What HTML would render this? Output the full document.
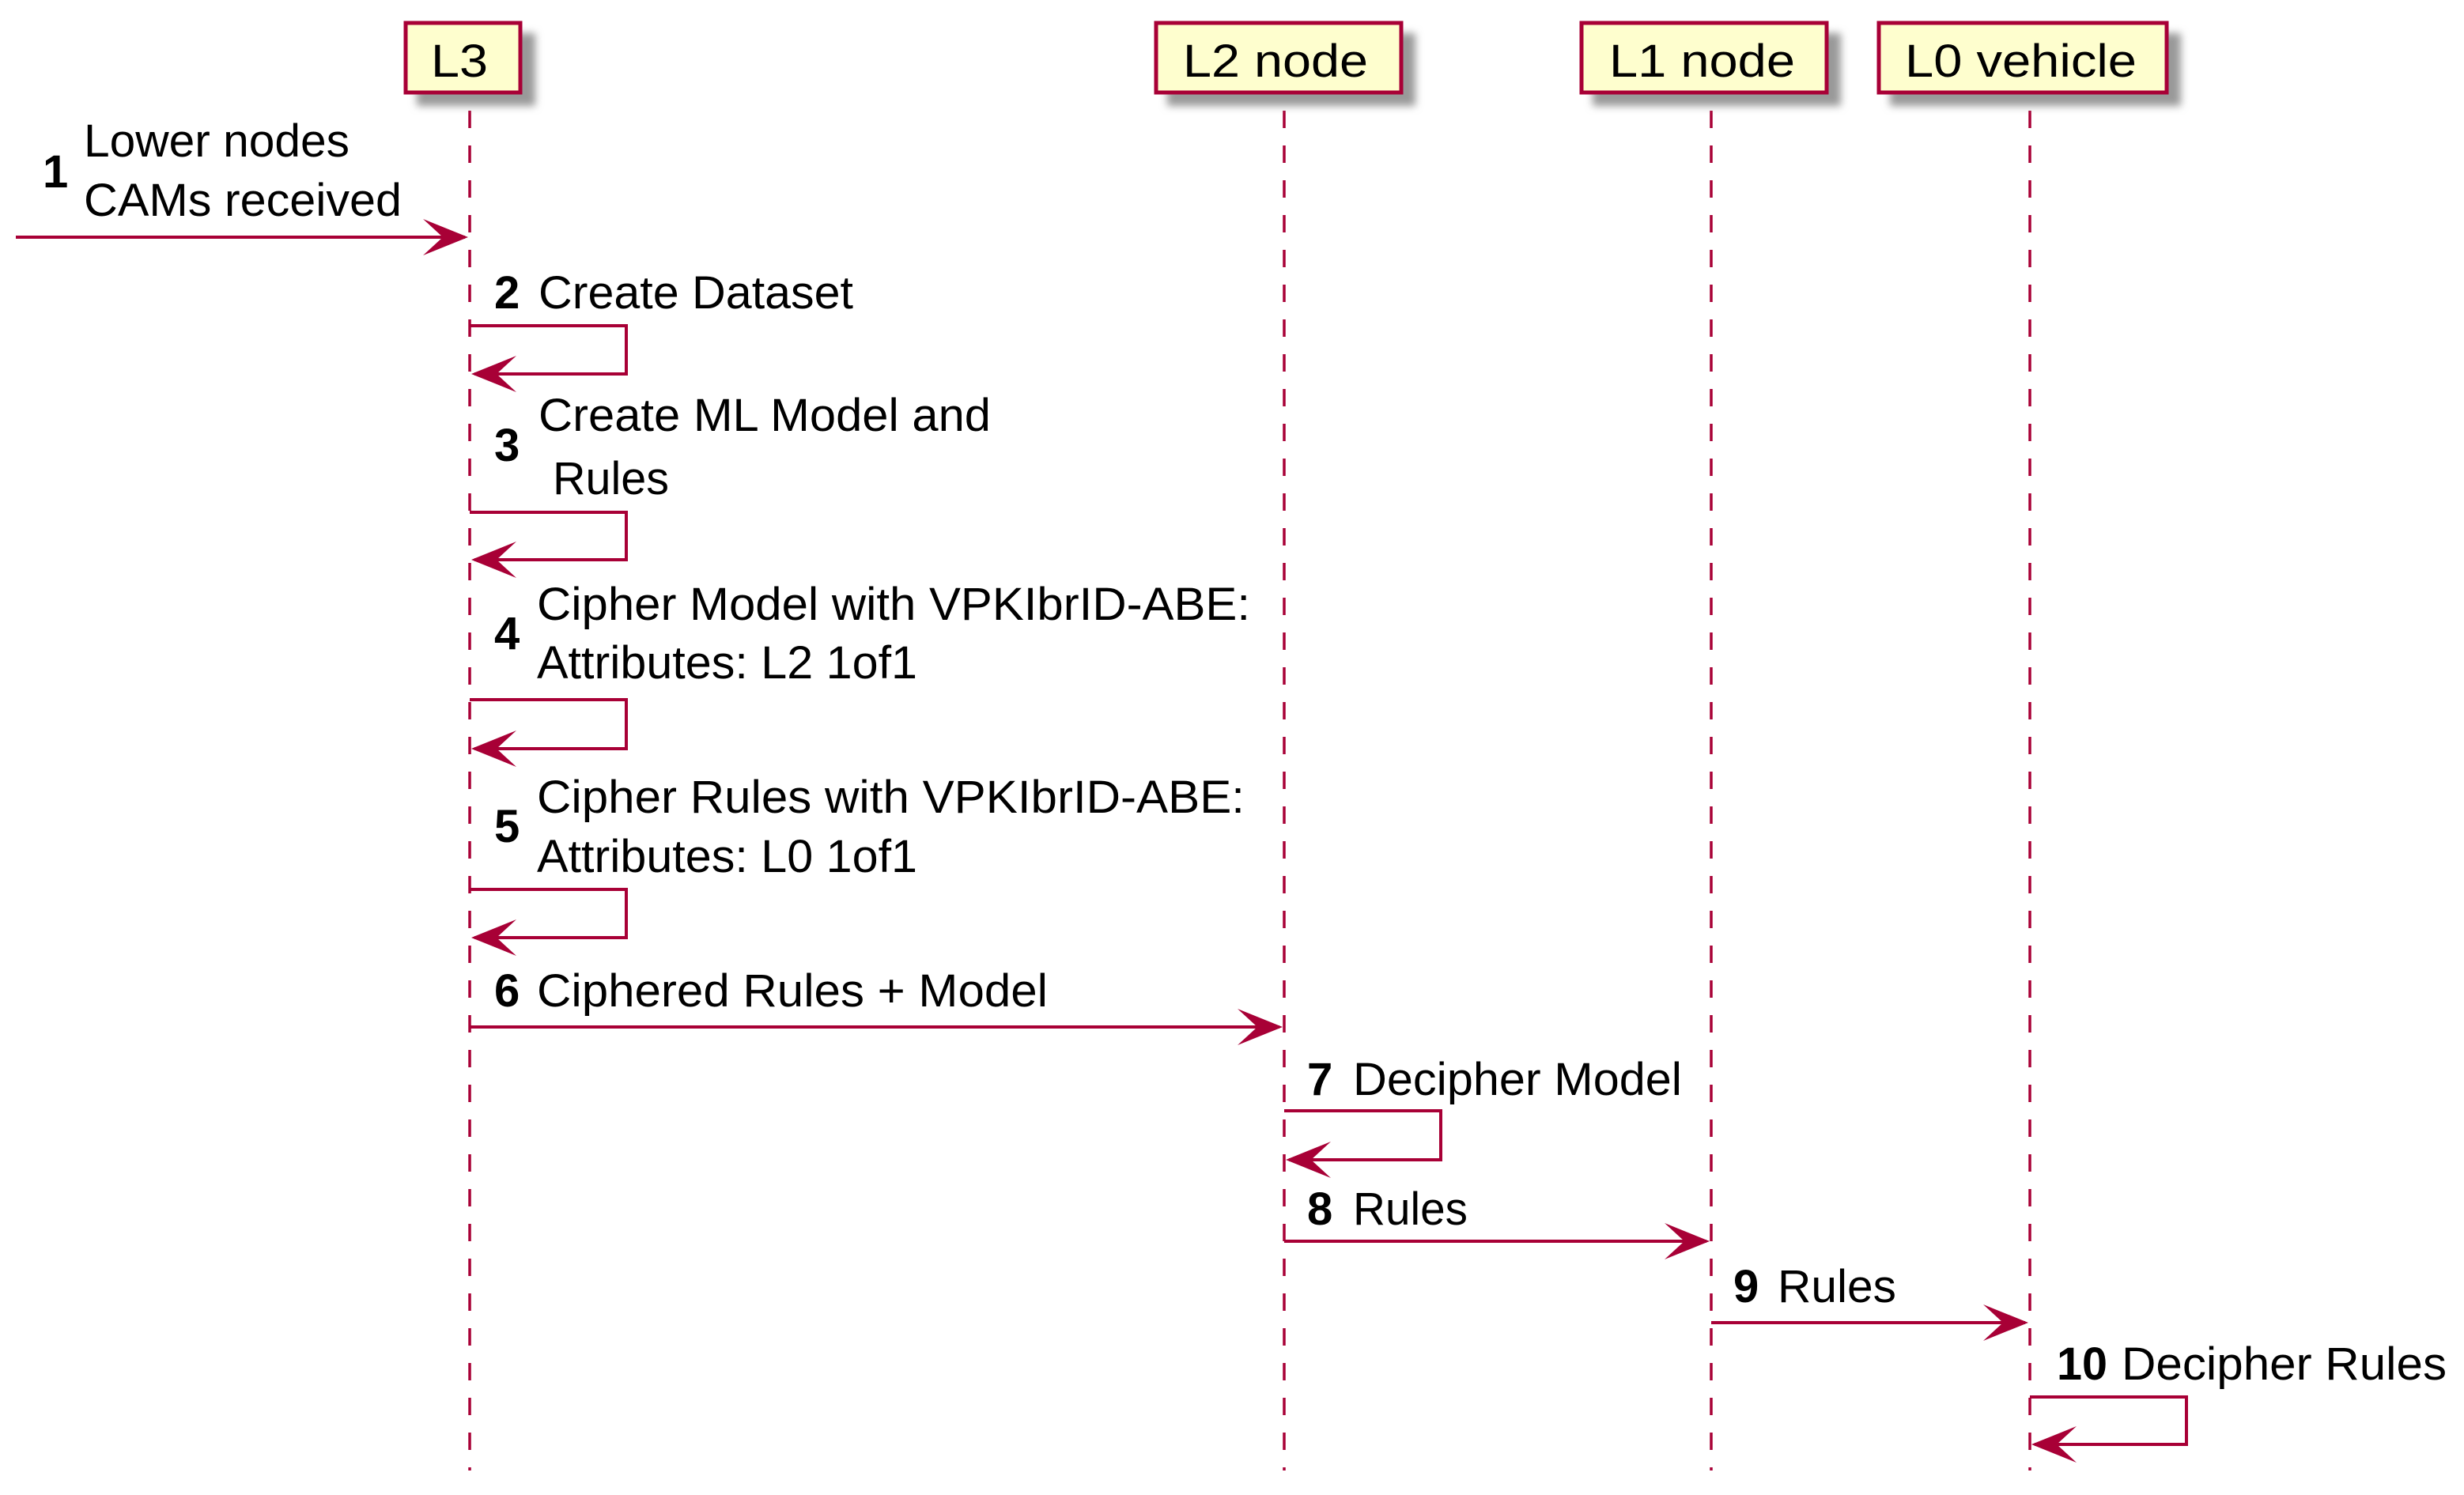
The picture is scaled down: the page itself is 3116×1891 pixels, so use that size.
<!DOCTYPE html>
<html><head><meta charset="utf-8"><style>
html,body{margin:0;padding:0;background:#fff;}
svg{display:block;}
text{font-family:"Liberation Sans",sans-serif;font-size:58px;fill:#000;}
.n{font-weight:bold;}
</style></head><body>
<svg width="3116" height="1891" viewBox="0 0 3116 1891" xmlns="http://www.w3.org/2000/svg">
<defs>
<filter id="sh" x="-20%" y="-20%" width="150%" height="150%"><feGaussianBlur stdDeviation="5"/></filter>
</defs>
<!-- lifelines -->
<g stroke="#A80036" stroke-width="3.5" stroke-dasharray="22,22" fill="none">
<line x1="594" y1="140" x2="594" y2="1860"/>
<line x1="1624" y1="140" x2="1624" y2="1860"/>
<line x1="2164" y1="140" x2="2164" y2="1860"/>
<line x1="2567" y1="140" x2="2567" y2="1860"/>
</g>
<!-- boxes shadows -->
<g fill="#999" filter="url(#sh)">
<rect x="527" y="42" width="150" height="92"/>
<rect x="1476" y="42" width="314" height="92"/>
<rect x="2014" y="42" width="314" height="92"/>
<rect x="2390" y="42" width="368" height="92"/>
</g>
<g fill="#FEFECE" stroke="#A80036" stroke-width="5">
<rect x="513" y="29" width="145" height="88"/>
<rect x="1462" y="29" width="310" height="88"/>
<rect x="2000" y="29" width="310" height="88"/>
<rect x="2376" y="29" width="364" height="88"/>
</g>
<text x="545" y="97" textLength="72" lengthAdjust="spacingAndGlyphs">L3</text>
<text x="1496" y="97" textLength="234" lengthAdjust="spacingAndGlyphs">L2 node</text>
<text x="2035" y="97" textLength="235" lengthAdjust="spacingAndGlyphs">L1 node</text>
<text x="2409" y="97" textLength="293" lengthAdjust="spacingAndGlyphs">L0 vehicle</text>

<!-- arrows lines -->
<g stroke="#A80036" stroke-width="4" fill="none">
<line x1="20" y1="300" x2="588" y2="300"/>
<polyline points="594,412 792,412 792,473 600,473"/>
<polyline points="594,648 792,648 792,708 600,708"/>
<polyline points="594,885 792,885 792,947 600,947"/>
<polyline points="594,1125 792,1125 792,1186 600,1186"/>
<line x1="594" y1="1299" x2="1618" y2="1299"/>
<polyline points="1624,1405 1822,1405 1822,1467 1630,1467"/>
<line x1="1624" y1="1570" x2="2158" y2="1570"/>
<line x1="2164" y1="1673" x2="2561" y2="1673"/>
<polyline points="2567,1767 2765,1767 2765,1827 2573,1827"/>
</g>
<g fill="#A80036">
<polygon points="592,300 535,277 560,300 535,323"/>
<polygon points="596,473 653,450 628,473 653,496"/>
<polygon points="596,708 653,685 628,708 653,731"/>
<polygon points="596,947 653,924 628,947 653,970"/>
<polygon points="596,1186 653,1163 628,1186 653,1209"/>
<polygon points="1622,1299 1565,1276 1590,1299 1565,1322"/>
<polygon points="1626,1467 1683,1444 1658,1467 1683,1490"/>
<polygon points="2162,1570 2105,1547 2130,1570 2105,1593"/>
<polygon points="2565,1673 2508,1650 2533,1673 2508,1696"/>
<polygon points="2569,1827 2626,1804 2601,1827 2626,1850"/>
</g>

<!-- labels -->
<text class="n" x="54" y="237">1</text>
<text x="106" y="198" textLength="336" lengthAdjust="spacingAndGlyphs">Lower nodes</text>
<text x="106" y="273" textLength="402" lengthAdjust="spacingAndGlyphs">CAMs received</text>

<text class="n" x="625" y="390">2</text>
<text x="681" y="390" textLength="398" lengthAdjust="spacingAndGlyphs">Create Dataset</text>

<text class="n" x="625" y="583">3</text>
<text x="681" y="545" textLength="572" lengthAdjust="spacingAndGlyphs">Create ML Model and</text>
<text x="699" y="625" textLength="147" lengthAdjust="spacingAndGlyphs">Rules</text>

<text class="n" x="625" y="821">4</text>
<text x="679" y="784" textLength="902" lengthAdjust="spacingAndGlyphs">Cipher Model with VPKIbrID-ABE:</text>
<text x="679" y="858" textLength="481" lengthAdjust="spacingAndGlyphs">Attributes: L2 1of1</text>

<text class="n" x="625" y="1065">5</text>
<text x="679" y="1028" textLength="895" lengthAdjust="spacingAndGlyphs">Cipher Rules with VPKIbrID-ABE:</text>
<text x="679" y="1103" textLength="481" lengthAdjust="spacingAndGlyphs">Attributes: L0 1of1</text>

<text class="n" x="625" y="1273">6</text>
<text x="679" y="1273" textLength="646" lengthAdjust="spacingAndGlyphs">Ciphered Rules + Model</text>

<text class="n" x="1653" y="1385">7</text>
<text x="1711" y="1385" textLength="416" lengthAdjust="spacingAndGlyphs">Decipher Model</text>

<text class="n" x="1653" y="1549">8</text>
<text x="1711" y="1549" textLength="145" lengthAdjust="spacingAndGlyphs">Rules</text>

<text class="n" x="2192" y="1647">9</text>
<text x="2248" y="1647" textLength="150" lengthAdjust="spacingAndGlyphs">Rules</text>

<text class="n" x="2601" y="1745" textLength="64" lengthAdjust="spacingAndGlyphs">10</text>
<text x="2683" y="1745" textLength="411" lengthAdjust="spacingAndGlyphs">Decipher Rules</text>
</svg>
</body></html>
